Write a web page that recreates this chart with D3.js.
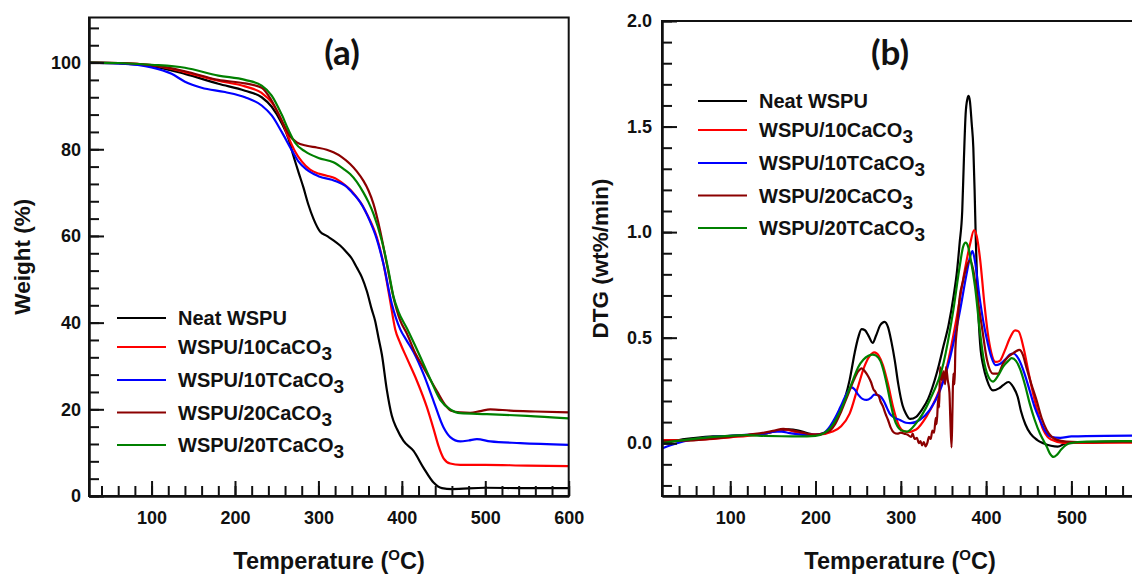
<!DOCTYPE html>
<html>
<head>
<meta charset="utf-8">
<script src="https://cdn.jsdelivr.net/npm/d3@7"></script>
<style>
  body { margin: 0; background: #fff; }
  svg text { font-family: "Liberation Sans", Arial, sans-serif; font-weight: bold; fill: #111; }
</style>
</head>
<body>
<svg id="chart" width="1132" height="574"></svg>
<script>
// series labels (same order in both panels)
var seriesNames = ["Neat WSPU", "WSPU/10CaCO3", "WSPU/10TCaCO3", "WSPU/20CaCO3", "WSPU/20TCaCO3"];

// (a) TGA: [temperature (C), weight (%)]
var tgaNeat = [[25,100],[60,99.8],[100,99.2],[140,97.4],[180,95.1],[212,93.5],[232,92.0],[244,89.8],[256,86],[264,82.5],[270,78.5],[276,74.8],[282,71.2],[288,67.2],[294,64],[302,61],[310,60],[318,59],[326,57.8],[334,56.2],[340,54.8],[346,52.7],[352,50.5],[358,47.3],[364,43],[368,40.4],[372,36.5],[376,32.7],[382,24.5],[388,18.5],[394,15.5],[402,12.7],[414,10.4],[426,6.5],[438,3.1],[448,1.8],[460,1.6],[500,1.9],[550,1.8],[600,1.8]];
var tga10Ca = [[25,100],[60,99.9],[100,99.4],[140,97.8],[180,95.8],[212,94.5],[232,93],[244,90.8],[256,86.6],[264,82.8],[272,79.5],[280,77.2],[290,75.3],[300,74.4],[310,73.9],[320,73.3],[330,72.0],[338,70.7],[346,68.9],[352,67.3],[358,65.1],[364,62.7],[370,59.7],[378,53.5],[386,45.0],[392,38.5],[398,35.3],[406,31.8],[418,26.6],[430,20.5],[438,15.5],[444,11.5],[450,8.7],[458,7.5],[470,7.2],[500,7.2],[550,7.0],[600,6.9]];
var tga10T = [[25,100],[60,99.8],[100,98.9],[124,97.4],[140,95.6],[160,94.2],[188,93.2],[212,92.0],[232,90.1],[244,87.8],[256,84.0],[268,79.8],[276,77.2],[286,75.3],[300,73.8],[320,72.7],[332,71.6],[342,69.7],[350,67.8],[356,65.8],[362,63.3],[368,60.4],[378,53.5],[388,44.3],[398,38.5],[406,35.8],[414,33.2],[426,28.1],[438,21.9],[450,15.8],[458,13.6],[470,12.6],[480,12.8],[490,13.1],[506,12.6],[542,12.2],[600,11.8]];
var tga20Ca = [[25,100],[60,99.9],[100,99.4],[140,98.0],[180,96.0],[212,95.2],[232,94.2],[244,91.2],[256,86.6],[266,83],[274,81.6],[286,80.8],[298,80.4],[310,79.9],[318,79.3],[328,78.2],[338,76.6],[346,74.9],[354,72.7],[360,70.5],[366,67.4],[374,61.2],[382,53.5],[390,45.8],[398,40.5],[406,37.5],[416,33],[426,29.6],[442,24.2],[452,21],[460,19.6],[470,19.3],[482,19.2],[494,19.6],[506,20.0],[530,19.7],[560,19.5],[600,19.3]];
var tga20T = [[25,100],[60,99.9],[100,99.5],[140,98.8],[180,97.0],[212,96.0],[232,94.7],[244,92.4],[256,88],[264,84.5],[272,81.5],[284,79.5],[300,78],[318,77],[330,75.5],[338,74.3],[346,72.5],[354,70.0],[360,67.8],[366,65.1],[376,58.9],[384,52.0],[390,46],[396,42.5],[406,38.7],[420,33],[434,27],[446,22.2],[458,20.0],[470,19.1],[502,18.9],[550,18.5],[600,17.9]];

// (b) DTG: [temperature (C), wt%/min]
var dtgNeat = [[20,0.0],[40,0.015],[60,0.025],[80,0.032],[100,0.035],[120,0.038],[140,0.045],[155,0.058],[168,0.066],[180,0.06],[190,0.048],[200,0.04],[210,0.045],[218,0.07],[228,0.14],[235,0.22],[240,0.3],[246,0.43],[250,0.5],[254,0.54],[258,0.535],[262,0.51],[267,0.475],[271,0.51],[276,0.56],[281,0.575],[285,0.55],[289,0.48],[293,0.39],[297,0.28],[302,0.18],[306,0.14],[311,0.115],[318,0.125],[325,0.16],[332,0.21],[342,0.33],[350,0.46],[356,0.56],[362,0.7],[366,0.82],[369,0.95],[372,1.1],[374,1.35],[376,1.56],[378,1.63],[379.5,1.645],[381,1.62],[383,1.52],[385,1.4],[386.5,1.2],[388,0.95],[390,0.7],[393,0.47],[397,0.36],[401,0.3],[408,0.25],[415,0.26],[420,0.275],[426,0.29],[432,0.265],[437,0.22],[441,0.15],[446,0.09],[452,0.045],[460,0.015],[467,0.0],[476,-0.012],[484,-0.016],[494,0.0],[520,0.005],[560,0.008],[600,0.008]];
var dtg10Ca = [[20,0.015],[40,0.015],[60,0.016],[80,0.02],[100,0.028],[120,0.035],[140,0.045],[155,0.06],[163,0.065],[175,0.055],[190,0.042],[205,0.042],[220,0.055],[230,0.08],[240,0.14],[250,0.27],[257,0.36],[263,0.41],[269,0.43],[274,0.415],[279,0.37],[285,0.28],[291,0.17],[297,0.09],[302,0.06],[308,0.053],[318,0.065],[330,0.126],[342,0.22],[354,0.363],[365,0.584],[375,0.82],[381,0.94],[386,1.01],[389,0.98],[393,0.87],[398,0.66],[402,0.52],[406,0.43],[411,0.385],[416,0.39],[422,0.44],[428,0.5],[434,0.535],[438,0.53],[444,0.45],[450,0.33],[455,0.237],[461,0.14],[467,0.063],[472,0.03],[477,0.016],[490,0.002],[520,0.002],[560,0.003],[600,0.003]];
var dtg10T = [[20,-0.025],[30,-0.01],[45,0.008],[60,0.02],[80,0.03],[100,0.035],[120,0.04],[140,0.045],[152,0.055],[160,0.055],[170,0.048],[185,0.04],[200,0.04],[210,0.05],[217,0.08],[223,0.12],[229,0.17],[236,0.23],[242,0.265],[246,0.255],[250,0.23],[255,0.21],[260,0.205],[265,0.215],[269,0.23],[275,0.225],[280,0.2],[284,0.165],[287,0.14],[293,0.12],[299,0.11],[306,0.097],[311,0.095],[322,0.11],[334,0.158],[346,0.25],[358,0.41],[369,0.62],[377,0.8],[381,0.88],[384,0.91],[387,0.86],[392,0.7],[397,0.57],[401,0.49],[406,0.41],[411,0.37],[416,0.375],[422,0.395],[428,0.42],[432,0.425],[438,0.4],[445,0.33],[451,0.25],[457,0.17],[463,0.11],[469,0.06],[475,0.032],[487,0.025],[500,0.032],[540,0.035],[600,0.036]];
var dtg20Ca = [[20,0.01],[40,0.012],[60,0.015],[80,0.022],[100,0.03],[120,0.04],[140,0.05],[152,0.06],[162,0.068],[172,0.062],[185,0.05],[198,0.04],[210,0.048],[217,0.06],[223,0.09],[229,0.14],[235,0.2],[240,0.25],[245,0.3],[250,0.34],[254,0.355],[258,0.34],[262,0.315],[265,0.29],[268,0.255],[270,0.245],[272,0.23],[274,0.225],[276,0.2],[279,0.175],[282,0.14],[285,0.11],[288,0.075],[292,0.05],[296,0.045],[300,0.05],[304,0.045],[308,0.04],[312,0.03],[314,0.045],[316,0.02],[319,0.025],[321,0.0],[323,0.01],[325,-0.01],[327,0.005],[329,-0.015],[331,0.0],[333,0.03],[335,0.02],[337,0.06],[339,0.05],[341,0.12],[342,0.09],[344,0.22],[345,0.17],[346,0.36],[348,0.3],[350,0.34],[352,0.28],[353,0.36],[355,0.3],[357,0.24],[358,0.12],[359.5,-0.02],[360.5,0.15],[361.5,0.33],[363,0.28],[364,0.45],[366,0.55],[369,0.69],[373,0.77],[377,0.835],[381,0.865],[385,0.82],[389,0.71],[395,0.553],[401,0.395],[408,0.33],[414,0.33],[420,0.379],[426,0.41],[432,0.427],[439,0.442],[443,0.42],[447,0.363],[453,0.28],[459,0.205],[465,0.12],[471,0.063],[477,0.03],[483,0.016],[494,0.008],[520,0.005],[560,0.007],[600,0.007]];
var dtg20T = [[20,0.0],[40,0.012],[60,0.022],[80,0.03],[100,0.035],[120,0.038],[140,0.035],[160,0.033],[180,0.032],[200,0.035],[210,0.048],[219,0.08],[225,0.12],[231,0.17],[238,0.24],[244,0.3],[250,0.36],[256,0.395],[262,0.414],[267,0.42],[271,0.415],[276,0.39],[280,0.34],[284,0.27],[288,0.19],[292,0.12],[296,0.08],[300,0.062],[307,0.055],[318,0.095],[334,0.205],[350,0.379],[361,0.616],[369,0.837],[373,0.93],[376,0.95],[379,0.93],[382,0.87],[387,0.742],[393,0.52],[397,0.4],[401,0.332],[408,0.292],[414,0.32],[420,0.363],[426,0.39],[430,0.403],[435,0.39],[440,0.35],[446,0.27],[451,0.19],[457,0.11],[463,0.047],[467,0.015],[471,-0.016],[475,-0.05],[479,-0.065],[483,-0.055],[488,-0.03],[493,-0.01],[498,0.0],[518,0.008],[560,0.01],[600,0.01]];

// axis ticks
var tgaMajorX = [100, 200, 300, 400, 500, 600];
var tgaMajorY = [0, 20, 40, 60, 80, 100];
var dtgMajorX = [100, 200, 300, 400, 500];
var dtgMajorY = [0.0, 0.5, 1.0, 1.5, 2.0];

var colors = ["#000000", "#ff0000", "#0000ff", "#8b0000", "#008000"];

var svg = d3.select("#chart");

function drawPanel(opt) {
  var x = d3.scaleLinear().domain(opt.xDomain).range(opt.xRange);
  var y = d3.scaleLinear().domain(opt.yDomain).range(opt.yRange);
  var g = svg.append("g");

  var clipId = "clip-" + opt.id;
  svg.append("clipPath").attr("id", clipId)
    .append("rect")
      .attr("x", opt.xRange[0]).attr("y", opt.yRange[1])
      .attr("width", opt.xRange[1] - opt.xRange[0])
      .attr("height", opt.yRange[0] - opt.yRange[1]);

  var line = d3.line()
      .x(function(d) { return x(d[0]); })
      .y(function(d) { return y(d[1]); })
      .curve(d3.curveMonotoneX);

  g.append("g").attr("clip-path", "url(#" + clipId + ")")
    .selectAll("path.series")
    .data(opt.series)
    .join("path")
      .attr("class", "series")
      .attr("d", line)
      .attr("fill", "none")
      .attr("stroke", function(d, i) { return colors[i]; })
      .attr("stroke-width", 2.2)
      .attr("stroke-linejoin", "round");

  // minor ticks (inside)
  g.append("g")
      .attr("transform", "translate(0," + opt.yRange[0] + ")")
      .call(d3.axisBottom(x).tickValues(opt.minorX).tickSize(-10).tickSizeOuter(0).tickFormat(""));
  g.append("g")
      .attr("transform", "translate(" + opt.xRange[0] + ",0)")
      .call(d3.axisLeft(y).tickValues(opt.minorY).tickSize(-10).tickSizeOuter(0).tickFormat(""));
  // major ticks with labels
  g.append("g").attr("class", "axis bottom")
      .attr("transform", "translate(0," + opt.yRange[0] + ")")
      .call(d3.axisBottom(x).tickValues(opt.majorX).tickSize(-15).tickSizeOuter(0));
  g.append("g").attr("class", "axis left")
      .attr("transform", "translate(" + opt.xRange[0] + ",0)")
      .call(d3.axisLeft(y).tickValues(opt.majorY).tickSize(-15).tickSizeOuter(0)
        .tickPadding(opt.yPad).tickFormat(opt.yFormat));

  g.selectAll(".tick line").attr("stroke", "#111").attr("stroke-width", 2);
  g.selectAll(".domain").attr("stroke", "#111").attr("stroke-width", 2);
  g.selectAll(".tick text").attr("font-size", 18)
      .style("font-family", "'Liberation Sans', Arial, sans-serif").style("font-weight", "bold").attr("fill", "#111");
  g.selectAll(".axis.bottom .tick text").attr("dy", "0.71em").attr("y", 15);

  // frame
  g.append("rect")
      .attr("x", opt.xRange[0]).attr("y", opt.yRange[1])
      .attr("width", opt.xRange[1] - opt.xRange[0])
      .attr("height", opt.yRange[0] - opt.yRange[1])
      .attr("fill", "none").attr("stroke", "#111").attr("stroke-width", 2);

  // panel letter
  g.append("text")
      .attr("x", opt.letterX).attr("y", 65)
      .attr("text-anchor", "middle")
      .style("font-family", "Lato, 'Open Sans', sans-serif")
      .attr("font-size", 35)
      .text(opt.letter);

  // y title
  g.append("text")
      .attr("transform", "translate(" + opt.yTitleX + "," + ((opt.yRange[0] + opt.yRange[1]) / 2) + ") rotate(-90)")
      .attr("text-anchor", "middle")
      .attr("font-size", 22.5)
      .text(opt.yTitle);

  // x title with superscript O
  var xt = g.append("text")
      .attr("x", opt.xTitleX).attr("y", 569)
      .attr("text-anchor", "middle")
      .attr("font-size", 23.5);
  xt.append("tspan").text("Temperature (");
  xt.append("tspan").attr("font-size", 15).attr("dy", -9).text("O");
  xt.append("tspan").attr("dy", 9).text("C)");

  // legend
  var rowY = [0, 29, 62, 94.5, 127];
  var leg = g.append("g");
  seriesNames.forEach(function(name, i) {
    var ly = opt.legendY + rowY[i];
    leg.append("line")
        .attr("x1", opt.legendX).attr("x2", opt.legendX + 49)
        .attr("y1", ly).attr("y2", ly)
        .attr("stroke", colors[i]).attr("stroke-width", 2.2);
    var t = leg.append("text")
        .attr("x", opt.legendX + 61).attr("y", ly + 7)
        .attr("font-size", 20);
    var m = name.match(/^(.*CO)3$/);
    if (m) {
      t.append("tspan").text(m[1]);
      t.append("tspan").attr("dy", 6).attr("font-size", 19).text("3");
    } else {
      t.text(name);
    }
  });
}

drawPanel({
  id: "a",
  xDomain: [25, 600], xRange: [89, 568.7],
  yDomain: [0, 110.4], yRange: [496, 17.5],
  series: [tgaNeat, tga10Ca, tga10T, tga20Ca, tga20T],
  minorX: d3.range(40, 601, 20), majorX: tgaMajorX,
  minorY: d3.range(0, 109, 4), majorY: tgaMajorY,
  yFormat: d3.format("d"), yPad: 8,
  letter: "(a)", letterX: 342,
  yTitle: "Weight (%)", yTitleX: 30,
  xTitleX: 329,
  legendX: 117, legendY: 318
});

drawPanel({
  id: "b",
  xDomain: [20, 600], xRange: [662, 1156.7],
  yDomain: [-0.25, 2.0], yRange: [496, 21],
  series: [dtgNeat, dtg10Ca, dtg10T, dtg20Ca, dtg20T],
  minorX: d3.range(40, 601, 20), majorX: dtgMajorX,
  minorY: d3.range(-0.2, 2.01, 0.1), majorY: dtgMajorY,
  yFormat: d3.format(".1f"), yPad: 10,
  letter: "(b)", letterX: 890,
  yTitle: "DTG (wt%/min)", yTitleX: 608,
  xTitleX: 900,
  legendX: 698, legendY: 101
});
</script>
</body>
</html>
